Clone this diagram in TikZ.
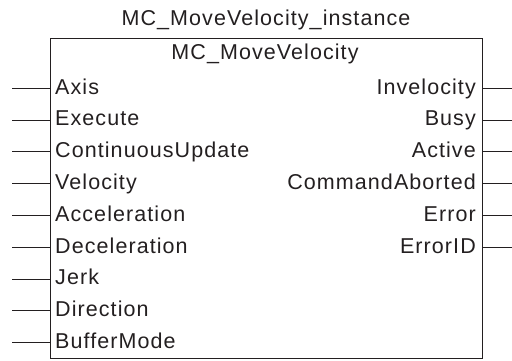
\documentclass[tikz,border=0pt]{standalone}
\usepackage{fontspec}
\setmainfont[LetterSpace=5]{Liberation Sans}
\definecolor{ink}{HTML}{231F20}
\begin{document}
\begin{tikzpicture}[x=1pt,y=-1pt,
  lbl/.style={inner sep=0pt,text=ink,font=\fontsize{21.5}{24}\selectfont},
  inlbl/.style={lbl,anchor=base west},
  outlbl/.style={lbl,anchor=base east},
  pin/.style={draw=ink,line width=1pt},
  fbbox/.style={draw=ink,line width=1.3pt}]
\useasboundingbox (0,0) rectangle (512,360);
\node[fbbox,minimum width=432.5pt,minimum height=320pt,anchor=north west,inner sep=0pt] (box) at (49.5,38) {};
\node[lbl,anchor=base] (inst) at (266,25) {MC\_MoveVelocity\_instance};
\node[lbl,anchor=base] (fb) at (265,59.3) {MC\_MoveVelocity};
\foreach \i/\t in {0/Axis,1/Execute,2/ContinuousUpdate,3/Velocity,4/Acceleration,5/Deceleration,6/Jerk,7/Direction,8/BufferMode}{
  \pgfmathsetmacro{\yy}{88.3+31.8*\i}
  \coordinate (inl\i) at (12,\yy);
  \coordinate (inr\i) at (49.5,\yy);
  \draw[pin] (inl\i) -- (inr\i);
  \node[inlbl] (in\i) at (55,\yy+5.8) {\t};
}
\foreach \i/\t in {0/Invelocity,1/Busy,2/Active,3/CommandAborted,4/Error,5/ErrorID}{
  \pgfmathsetmacro{\yy}{88.3+31.8*\i}
  \coordinate (outl\i) at (482,\yy);
  \coordinate (outr\i) at (512,\yy);
  \draw[pin] (outl\i) -- (outr\i);
  \node[outlbl] (out\i) at (476,\yy+5.8) {\t};
}
\end{tikzpicture}
\end{document}
